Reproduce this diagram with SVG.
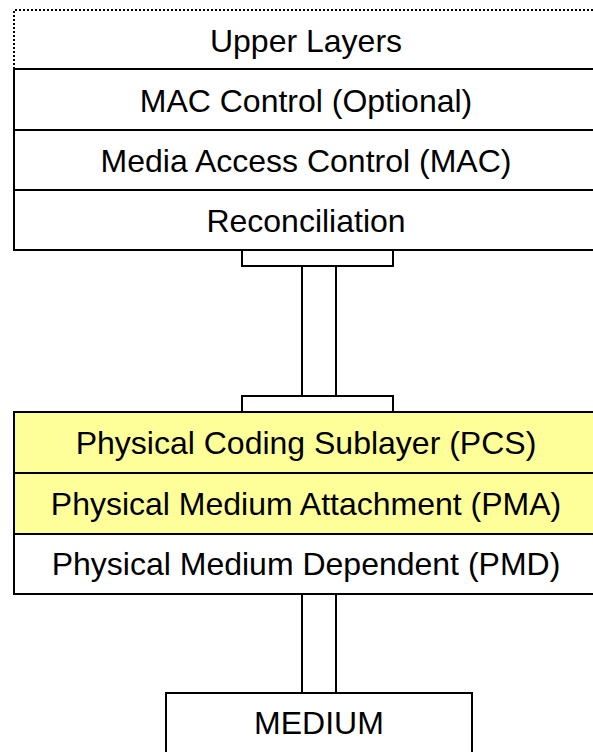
<svg xmlns="http://www.w3.org/2000/svg" width="593" height="752" viewBox="0 0 593 752">
  <style>
    .box { fill: #ffffff; stroke: #000000; stroke-width: 2; }
    .hl { fill: #ffff99; stroke: #000000; stroke-width: 2; }
    .dot { fill: none; stroke: #000000; stroke-width: 2; stroke-dasharray: 2 2; }
    .wire { fill: none; stroke: #000000; stroke-width: 2; }
    .cap { fill: #ffffff; stroke: #000000; stroke-width: 2; }
    text { font-family: "Liberation Sans", Arial, sans-serif; font-size: 32px; fill: #000000; text-anchor: middle; }
  </style>

  <!-- upper stack -->
  <g id="upper-layers">
    <path class="dot" d="M14,69 V10 H600"/>
    <text x="306" y="52">Upper Layers</text>
  </g>
  <g id="mac-control">
    <rect class="box" x="14" y="69" width="590" height="61"/>
    <text x="306" y="112">MAC Control (Optional)</text>
  </g>
  <g id="mac">
    <rect class="box" x="14" y="130" width="590" height="60"/>
    <text x="306" y="172">Media Access Control (MAC)</text>
  </g>
  <g id="reconciliation">
    <rect class="box" x="14" y="190" width="590" height="60"/>
    <text x="306" y="232">Reconciliation</text>
  </g>

  <!-- lower stack -->
  <g id="pcs">
    <rect class="hl" x="14" y="412" width="590" height="61"/>
    <text x="306" y="454">Physical Coding Sublayer (PCS)</text>
  </g>
  <g id="pma">
    <rect class="hl" x="14" y="473" width="590" height="61"/>
    <text x="306" y="515">Physical Medium Attachment (PMA)</text>
  </g>
  <g id="pmd">
    <rect class="box" x="14" y="534" width="590" height="60"/>
    <text x="306" y="575">Physical Medium Dependent (PMD)</text>
  </g>

  <g id="medium">
    <rect class="box" x="166" y="693" width="306" height="80"/>
    <text x="319" y="734">MEDIUM</text>
  </g>

  <!-- interface links -->
  <g id="connectors">
    <rect class="cap" x="242" y="250" width="151" height="16"/>
    <line class="wire" x1="302" y1="266" x2="302" y2="396"/>
    <line class="wire" x1="336" y1="266" x2="336" y2="396"/>
    <rect class="cap" x="242" y="396" width="151" height="16"/>
    <line class="wire" x1="302" y1="594" x2="302" y2="693"/>
    <line class="wire" x1="336" y1="594" x2="336" y2="693"/>
  </g>
</svg>
